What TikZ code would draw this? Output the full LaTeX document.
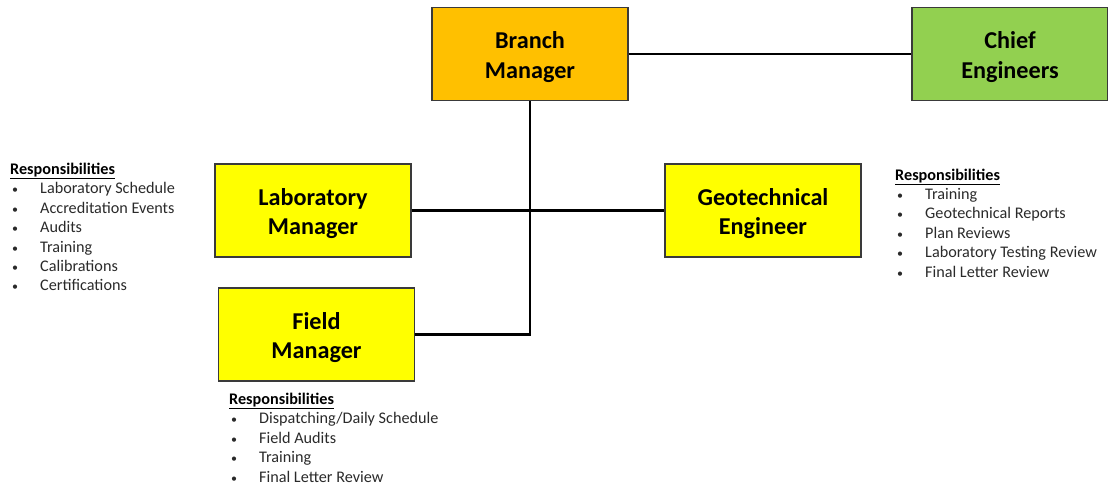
\documentclass[tikz,border=0pt]{standalone}
\usepackage{fontspec}
\setmainfont{Carlito}
\definecolor{branchfill}{HTML}{FFC000}
\definecolor{rolefill}{HTML}{FFFF00}
\definecolor{chieffill}{HTML}{92D050}
\definecolor{boxedge}{HTML}{3A3A3A}
\definecolor{listtext}{HTML}{2A2A2A}
% one bulleted line of a responsibilities list
\newcommand{\dutyline}[1]{\hspace*{2pt}\makebox[28pt][l]{\fontsize{12}{12}\selectfont•}#1}
\begin{document}
\begin{tikzpicture}[x=1pt,y=-1pt,
  rolebox/.style={draw=boxedge,line width=1.2pt,minimum width=196pt,minimum height=93pt,inner sep=0pt},
  roletext/.style={label={[align=center,font=\fontsize{24.2}{29.5}\selectfont\bfseries,
    inner sep=0pt,yshift=-3pt]center:#1}},
  link/.style={line width=2.6pt,black},
  duties/.style={anchor=north west,align=left,inner sep=0pt,text=listtext,
    font=\fontsize{16.2}{19.4}\selectfont}]
\useasboundingbox (0,0) rectangle (1108,486);

\node[rolebox,fill=branchfill,roletext={Branch\\Manager}] (branch) at (530,54) {};
\node[rolebox,fill=chieffill,roletext={Chief\\Engineers}] (chief) at (1010,54) {};
\node[rolebox,fill=rolefill,roletext={Laboratory\\Manager}] (lab) at (313,210.5) {};
\node[rolebox,fill=rolefill,roletext={Geotechnical\\Engineer}] (geo) at (763,210.5) {};
\node[rolebox,fill=rolefill,roletext={Field\\Manager}] (field) at (316.5,334.5) {};

\draw[link] (branch.east) -- (chief.west);
\draw[link] (lab.east) -- (geo.west);
\draw[link] (branch.south) |- (field.east);

\node[duties] (labduties) at (10,163) {\textcolor{black}{\textbf{\underline{Responsibilities}}}\\
  \dutyline{Laboratory Schedule}\\
  \dutyline{Accreditation Events}\\
  \dutyline{Audits}\\
  \dutyline{Training}\\
  \dutyline{Calibrations}\\
  \dutyline{Certifications}};

\node[duties] (geoduties) at (895,168.5) {\textcolor{black}{\textbf{\underline{Responsibilities}}}\\
  \dutyline{Training}\\
  \dutyline{Geotechnical Reports}\\
  \dutyline{Plan Reviews}\\
  \dutyline{Laboratory Testing Review}\\
  \dutyline{Final Letter Review}};

\node[duties] (fieldduties) at (229,393) {\textcolor{black}{\textbf{\underline{Responsibilities}}}\\
  \dutyline{Dispatching/Daily Schedule}\\
  \dutyline{Field Audits}\\
  \dutyline{Training}\\
  \dutyline{Final Letter Review}};
\end{tikzpicture}
\end{document}
